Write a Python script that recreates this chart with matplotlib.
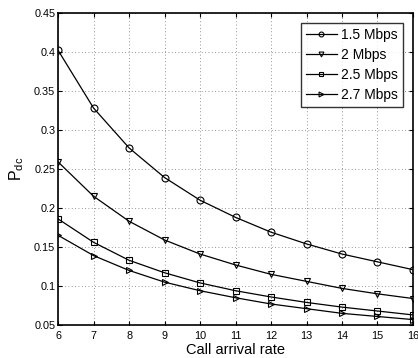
import numpy as np
import matplotlib
matplotlib.use("Agg")
import matplotlib.pyplot as plt

plt.rcParams['font.family'] = ['Liberation Sans', 'DejaVu Sans']
plt.rcParams['mathtext.fontset'] = 'custom'
plt.rcParams['mathtext.rm'] = 'Liberation Sans'
plt.rcParams['mathtext.it'] = 'Liberation Sans'

# Data
rate = [6, 7, 8, 9, 10, 11, 12, 13, 14, 15, 16]
p_15 = [0.402, 0.328, 0.277, 0.239, 0.210, 0.188, 0.169, 0.154, 0.141, 0.131, 0.121]
p_20 = [0.259, 0.215, 0.183, 0.159, 0.141, 0.127, 0.115, 0.106, 0.097, 0.090, 0.084]
p_25 = [0.186, 0.156, 0.133, 0.117, 0.104, 0.094, 0.086, 0.079, 0.073, 0.068, 0.063]
p_27 = [0.165, 0.139, 0.120, 0.105, 0.094, 0.085, 0.077, 0.071, 0.065, 0.061, 0.057]
labels = ["1.5 Mbps", "2 Mbps", "2.5 Mbps", "2.7 Mbps"]
yticks = [0.05, 0.1, 0.15, 0.2, 0.25, 0.3, 0.35, 0.4, 0.45]
ytick_labels = ["0.05", "0.1", "0.15", "0.2", "0.25", "0.3", "0.35", "0.4", "0.45"]

fig = plt.figure(figsize=(4.18, 3.58), dpi=100)
ax = fig.add_axes([0.139, 0.092, 0.849, 0.872])

ms = 5
ax.plot(rate, p_15, "k-o", mfc="none", ms=ms, lw=0.9, mew=0.8, label=labels[0])
ax.plot(rate, p_20, "k-v", mfc="none", ms=ms, lw=0.9, mew=0.8, label=labels[1])
ax.plot(rate, p_25, "k-s", mfc="none", ms=ms - 0.5, lw=0.9, mew=0.8, label=labels[2])
ax.plot(rate, p_27, "k->", mfc="none", ms=ms, lw=0.9, mew=0.8, label=labels[3])

ax.set_xlim(6, 16)
ax.set_ylim(0.05, 0.45)
ax.set_xticks(rate)
ax.set_yticks(yticks)
ax.set_yticklabels(ytick_labels)
ax.tick_params(direction="in", labelsize=7.8, length=3, top=True, right=True, pad=2)
ax.tick_params(axis="x", pad=4)
ax.grid(True, color="0.45", linestyle=(0, (1, 3)), linewidth=0.6)
for s in ax.spines.values():
    s.set_linewidth(1.2)

ax.set_xlabel("Call arrival rate", fontsize=10.5, labelpad=1.5)
ax.set_ylabel(r"P$_{\rm dc}$", fontsize=11.5, labelpad=6)

leg = ax.legend(loc="upper right", fontsize=10, frameon=True, fancybox=False,
                edgecolor="k", handlelength=2.2, handletextpad=0.3,
                borderpad=0.4, labelspacing=0.42, borderaxespad=0.7)
leg.get_frame().set_linewidth(1.0)
for h in leg.legend_handles:
    h.set_markersize(3.5)

fig.savefig("out.png", dpi=100)
